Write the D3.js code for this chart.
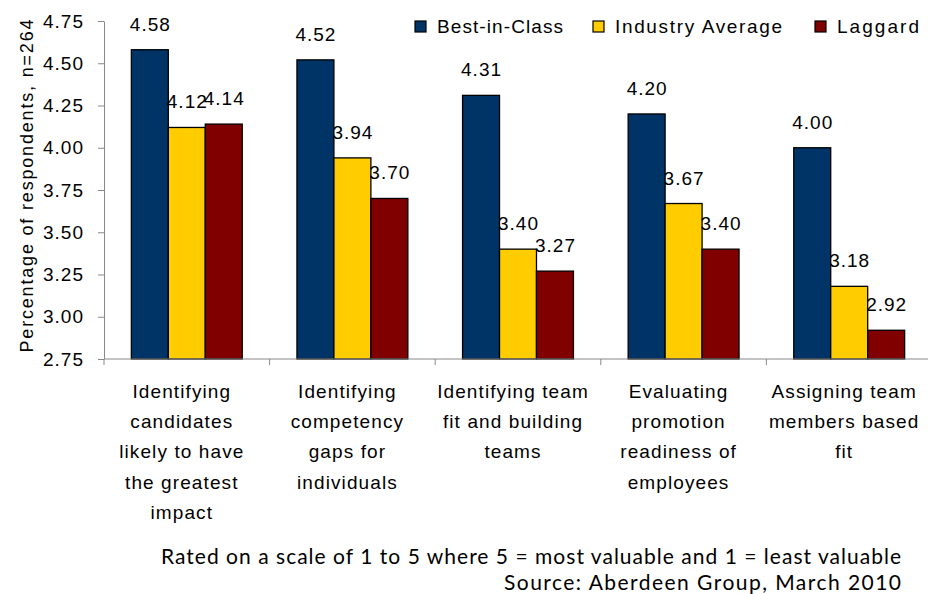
<!DOCTYPE html>
<meta charset="utf-8">
<head>
  <style>
    html, body { margin: 0; padding: 0; background: #fff; }
    svg { font-family: Arial, 'Liberation Sans', sans-serif; }
  </style>
  <script src="https://d3js.org/d3.v7.min.js"></script>
</head>
<body>
  <div id="chart"></div>
  <script>
    // Data
    const categories = [
      ["Identifying", "candidates", "likely to have", "the greatest", "impact"],
      ["Identifying", "competency", "gaps for", "individuals"],
      ["Identifying team", "fit and building", "teams"],
      ["Evaluating", "promotion", "readiness of", "employees"],
      ["Assigning team", "members based", "fit"]
    ];
    const seriesNames = ["Best-in-Class", "Industry Average", "Laggard"];
    const bestInClass = [4.58, 4.52, 4.31, 4.20, 4.00];
    const industryAverage = [4.12, 3.94, 3.40, 3.67, 3.18];
    const laggard = [4.14, 3.70, 3.27, 3.40, 2.92];
    const yTicks = [2.75, 3.00, 3.25, 3.50, 3.75, 4.00, 4.25, 4.50, 4.75];
    const colors = ["#003366", "#FFCC00", "#800000"];

    const W = 928, H = 594;
    const mLeft = 104, mRight = 932, mTop = 21, mBottom = 359;

    const svg = d3.select("#chart").append("svg")
      .attr("width", W).attr("height", H);

    const keys = categories.map((c, i) => "c" + i);
    const series = [bestInClass, industryAverage, laggard];

    const x = d3.scaleBand().domain(keys).range([mLeft, mRight]).paddingInner(0).paddingOuter(0);
    const xs = d3.scaleBand().domain(seriesNames).range([0, x.bandwidth()]).paddingOuter(0.74).paddingInner(0);
    const y = d3.scaleLinear().domain([2.75, 4.75]).range([mBottom, mTop]);

    // Y axis
    const yAxis = svg.append("g")
      .attr("transform", `translate(${mLeft},0)`)
      .call(d3.axisLeft(y).tickValues(yTicks).tickFormat(d3.format(".2f")).tickSize(6).tickSizeOuter(0));
    yAxis.select(".domain").attr("stroke", "#888");
    yAxis.selectAll(".tick line").attr("stroke", "#888");
    yAxis.selectAll(".tick text").attr("font-size", 19).attr("fill", "#000")
      .attr("letter-spacing", "1px")
      .attr("font-family", "Arial, 'Liberation Sans', sans-serif").attr("x", -20);

    // bars
    const rows = [];
    keys.forEach((k, i) => seriesNames.forEach((s, j) => rows.push({ k, s, j, v: series[j][i] })));

    svg.append("g").selectAll("rect")
      .data(rows).join("rect")
      .attr("x", d => x(d.k) + xs(d.s))
      .attr("y", d => y(d.v))
      .attr("width", xs.bandwidth())
      .attr("height", d => mBottom - y(d.v))
      .attr("fill", d => colors[d.j])
      .attr("stroke", "#000")
      .attr("stroke-width", 1.3);

    svg.append("g").selectAll("text")
      .data(rows).join("text")
      .attr("x", d => x(d.k) + xs(d.s) + xs.bandwidth() / 2 + 0.5)
      .attr("y", d => y(d.v) - 19)
      .attr("text-anchor", "middle")
      .attr("font-size", 19)
      .attr("letter-spacing", "1px")
      .text(d => d.v.toFixed(2));

    // X axis
    const xAxis = svg.append("g").attr("transform", `translate(0,${mBottom})`);
    xAxis.append("line").attr("x1", mLeft).attr("x2", mRight).attr("stroke", "#888");
    xAxis.selectAll("line.tk")
      .data(keys.concat(["end"])).join("line").attr("class", "tk")
      .attr("x1", (d, i) => mLeft + i * x.bandwidth())
      .attr("x2", (d, i) => mLeft + i * x.bandwidth())
      .attr("y1", 0).attr("y2", 6).attr("stroke", "#888");

    const labels = svg.append("g").selectAll("text")
      .data(categories).join("text")
      .attr("text-anchor", "middle")
      .attr("font-size", 19)
      .attr("letter-spacing", "1.1px");
    labels.each(function (lines, i) {
      d3.select(this).selectAll("tspan").data(lines).join("tspan")
        .attr("x", x(keys[i]) + x.bandwidth() / 2 - 5)
        .attr("y", (d, k) => 398 + k * 30.2)
        .text(d => d);
    });

    // y label
    svg.append("text")
      .attr("transform", "translate(33,186) rotate(-90)")
      .attr("text-anchor", "middle")
      .attr("font-size", 18)
      .attr("textLength", 333)
      .attr("lengthAdjust", "spacing")
      .text("Percentage of respondents, n=264");

    // legend
    const legendX = [415, 593, 815];
    const legendW = [126, 167, 82];
    const lg = svg.append("g").selectAll("g")
      .data(seriesNames).join("g")
      .attr("transform", (d, i) => `translate(${legendX[i]},33)`);
    lg.append("rect").attr("x", 0).attr("y", -12).attr("width", 11).attr("height", 11)
      .attr("fill", (d, i) => colors[i]).attr("stroke", "#000").attr("stroke-width", 1.2);
    lg.append("text").attr("x", 22).attr("y", 0).attr("font-size", 19)
      .attr("textLength", (d, i) => legendW[i]).attr("lengthAdjust", "spacing")
      .text(d => d);

    // footnote
    const foot = svg.append("g").attr("font-family", "Lato, 'Open Sans', sans-serif")
      .attr("font-size", 21).attr("text-anchor", "end");
    foot.append("text").attr("x", 901).attr("y", 564)
      .attr("textLength", 740).attr("lengthAdjust", "spacing")
      .text("Rated on a scale of 1 to 5 where 5 = most valuable and 1 = least valuable");
    foot.append("text").attr("x", 901).attr("y", 590)
      .attr("textLength", 397).attr("lengthAdjust", "spacing")
      .text("Source: Aberdeen Group, March 2010");
  </script>
</body>
